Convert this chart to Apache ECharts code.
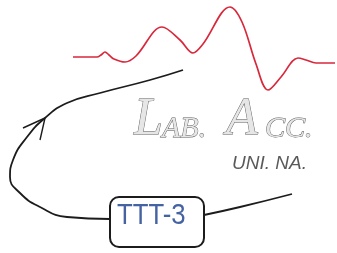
<!DOCTYPE html>
<html><head><meta charset="utf-8">
<script src="https://cdn.jsdelivr.net/npm/echarts@6/dist/echarts.min.js"></script>
<style>html,body{margin:0;padding:0;background:#fff}#c{width:337px;height:253px}</style>
</head><body><div id="c"></div>
<script>
// Red waveform (x, y in drawing units, y grows downward)
var waveX = [73, 97, 101, 105, 109, 114, 125, 136, 162, 180, 193, 203, 230, 242, 256, 268, 281, 298, 306, 316, 335];
var waveY = [57, 57, 55, 52, 55, 59, 62, 56, 27, 40, 53, 44, 7, 22, 64, 90, 77, 58, 60, 63, 63];
// Black loop curve from top right, round the left, into the box
var loopX = [183, 150, 100, 67, 45, 27, 13, 10, 20, 40, 67, 110];
var loopY = [70, 80, 93, 103, 118, 137, 160, 177, 193, 207, 217, 219];
// Tail leaving the box
var tailX = [204, 240, 292];
var tailY = [215, 207, 194];
// Arrowhead barbs
var arrowX = [23, 45, 40];
var arrowY = [128, 118, 140];
// Texts
var titleBig1 = 'L', titleSmall1 = 'AB.';
var titleBig2 = 'A', titleSmall2 = 'CC.';
var subtitle = 'UNI. NA.';
var boxLabel = 'TTT-3';

function pts(xs, ys){ return xs.map(function(x,i){ return [x, ys[i]]; }); }

var chart = echarts.init(document.getElementById('c'));
var outline = {fill:'#e6e6e6', stroke:'#5a5a5a', lineWidth:0.9, fontStyle:'italic', fontFamily:'Liberation Serif', verticalAlign:'bottom'};
function txt(t, x, y, size){
  return {type:'text', z:10, style:Object.assign({text:t, x:x, y:y, fontSize:size}, outline)};
}
chart.setOption({
  animation:false,
  grid:{left:0,right:0,top:0,bottom:0},
  xAxis:{type:'value',min:0,max:337,show:false},
  yAxis:{type:'value',min:0,max:253,inverse:true,show:false},
  series:[
    {type:'line',data:pts(waveX,waveY),smooth:0.35,symbol:'none',lineStyle:{color:'#d8283c',width:1.7}},
    {type:'line',data:pts(loopX,loopY),smooth:0.5,symbol:'none',lineStyle:{color:'#1c1c1c',width:1.8}},
    {type:'line',data:pts(tailX,tailY),smooth:0.5,symbol:'none',lineStyle:{color:'#1c1c1c',width:1.8}},
    {type:'line',data:pts(arrowX,arrowY),smooth:false,symbol:'none',lineStyle:{color:'#1c1c1c',width:1.4}}
  ],
  graphic:[
    {type:'rect',z:5,shape:{x:110,y:197,width:94,height:50,r:9},style:{fill:'#fff',stroke:'#1c1c1c',lineWidth:2}},
    {type:'text',z:10,x:117,y:231,scaleX:0.92,scaleY:1.05,style:{text:boxLabel,x:0,y:0,fontSize:28,fontFamily:'Liberation Sans',fill:'#4563a3',verticalAlign:'bottom'}},
    txt(titleBig1,134,146,52),
    txt(titleSmall1,162,144,30),
    txt(titleBig2,226,146,52),
    txt(titleSmall2,265,144,30),
    {type:'text',z:10,x:232,y:173,style:{text:subtitle,x:0,y:0,fontSize:19,fontStyle:'italic',fontFamily:'Liberation Sans',fill:'#5a5a5a',verticalAlign:'bottom'}}
  ]
});
</script></body></html>
